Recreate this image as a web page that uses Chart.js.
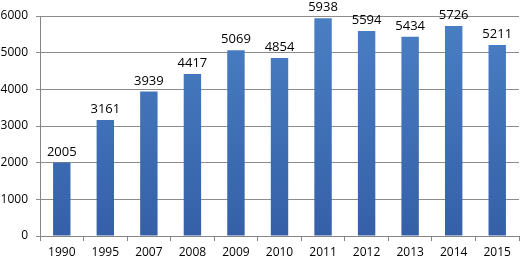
<!DOCTYPE html>
<html>
<head>
<meta charset="utf-8">
<script src="https://cdn.jsdelivr.net/npm/chart.js@4"></script>
<style>
  html, body { margin: 0; padding: 0; background: #fff; }
  #wrap { width: 520px; height: 262px; }
</style>
</head>
<body>
<div id="wrap"><canvas id="chart"></canvas></div>
<script>
const years = ['1990', '1995', '2007', '2008', '2009', '2010', '2011', '2012', '2013', '2014', '2015'];
const counts = [2005, 3161, 3939, 4417, 5069, 4854, 5938, 5594, 5434, 5726, 5211];
const yTicks = [0, 1000, 2000, 3000, 4000, 5000, 6000];

const barLabels = {
  id: 'barLabels',
  afterDatasetsDraw(chart) {
    const ctx = chart.ctx;
    const meta = chart.getDatasetMeta(0);
    ctx.save();
    ctx.font = '13px "Open Sans", sans-serif';
    ctx.fillStyle = '#000';
    ctx.textAlign = 'center';
    ctx.textBaseline = 'bottom';
    meta.data.forEach((bar, i) => {
      ctx.fillText(String(counts[i]), bar.x, bar.y - 4);
    });
    ctx.restore();
  }
};

function barFill(context) {
  const chart = context.chart;
  const area = chart.chartArea;
  if (!area) return '#4472c4';
  const g = chart.ctx.createLinearGradient(0, area.top, 0, area.bottom);
  g.addColorStop(0, '#4a7fc4');
  g.addColorStop(1, '#3560a8');
  return g;
}

new Chart(document.getElementById('chart'), {
  type: 'bar',
  data: {
    labels: years,
    datasets: [{
      data: counts,
      backgroundColor: barFill,
      borderWidth: 0,
      barPercentage: 0.4,
      categoryPercentage: 1.0
    }]
  },
  plugins: [barLabels],
  options: {
    responsive: true,
    maintainAspectRatio: false,
    animation: false,
    layout: { padding: { top: 16, right: 1, left: 0, bottom: 0 } },
    plugins: { legend: { display: false }, tooltip: { enabled: false } },
    scales: {
      x: {
        grid: { display: true, drawOnChartArea: false, offset: true, color: '#868686', tickLength: 5 },
        border: { color: '#868686' },
        ticks: { color: '#000', font: { family: '"Open Sans", sans-serif', size: 12 }, padding: 4, maxRotation: 0 },
        afterFit(scale) { scale.height = 26; }
      },
      y: {
        min: 0,
        max: 6000,
        afterBuildTicks(scale) { scale.ticks = yTicks.map(v => ({ value: v })); },
        grid: { color: '#8c8c8c', tickLength: 4 },
        border: { color: '#868686' },
        ticks: {
          color: '#000',
          font: { family: '"Open Sans", sans-serif', size: 12 },
          padding: 8,
          callback: v => String(v)
        },
        afterFit(scale) { scale.width = 40; }
      }
    }
  }
});
</script>
</body>
</html>
